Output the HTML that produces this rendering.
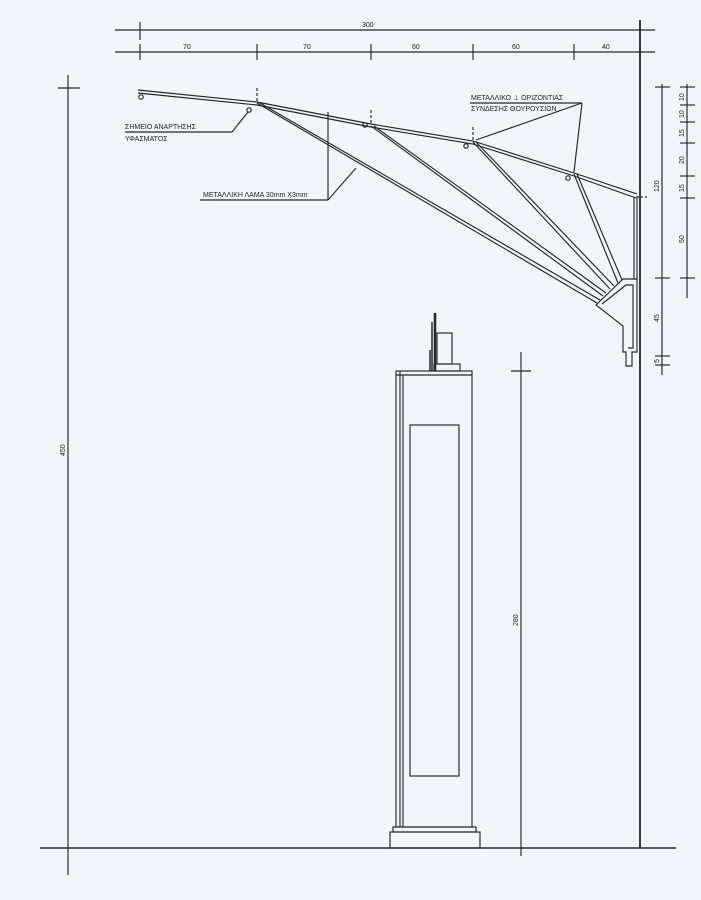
<!DOCTYPE html>
<html><head><meta charset="utf-8"><style>
html,body{margin:0;padding:0;background:#f2f4f9;}
svg{display:block}
text{font-family:"Liberation Sans",sans-serif;fill:#222;font-size:7px}
</style></head><body>
<svg width="701" height="900" viewBox="0 0 701 900" xmlns="http://www.w3.org/2000/svg">
<rect width="701" height="900" fill="#f2f4f9"/>
<g stroke="#262626" fill="none" stroke-width="1.15">
<line x1="115" y1="30" x2="655" y2="30"/>
<line x1="140" y1="22" x2="140" y2="40"/>
<line x1="115" y1="52" x2="655" y2="52"/>
<line x1="140" y1="44" x2="140" y2="60"/>
<line x1="257" y1="44" x2="257" y2="60"/>
<line x1="371" y1="44" x2="371" y2="60"/>
<line x1="473" y1="44" x2="473" y2="60"/>
<line x1="574" y1="44" x2="574" y2="60"/>
<line x1="640" y1="20" x2="640" y2="848" stroke-width="1.8"/>
<line x1="40" y1="848" x2="676" y2="848" stroke-width="1.4"/>
<line x1="68" y1="75" x2="68" y2="875"/>
<line x1="58" y1="88" x2="80" y2="88"/>
<line x1="521" y1="352" x2="521" y2="856"/>
<line x1="511" y1="371" x2="531" y2="371"/>
<line x1="662" y1="84" x2="662" y2="375"/>
<line x1="655" y1="87" x2="670" y2="87"/>
<line x1="655" y1="278" x2="670" y2="278"/>
<line x1="655" y1="356" x2="670" y2="356"/>
<line x1="655" y1="365" x2="670" y2="365"/>
<line x1="687" y1="84" x2="687" y2="298"/>
<line x1="680" y1="87" x2="695" y2="87"/>
<line x1="680" y1="105" x2="695" y2="105"/>
<line x1="680" y1="122" x2="695" y2="122"/>
<line x1="680" y1="143" x2="695" y2="143"/>
<line x1="680" y1="176" x2="695" y2="176"/>
<line x1="680" y1="198" x2="695" y2="198"/>
<line x1="680" y1="278" x2="695" y2="278"/>
<polyline points="138,90 257,102 371,124 473,141 574,173 637,194"/>
<polyline points="138,93 257,105 371,127 473,144 574,176 636,198"/>
<line x1="257" y1="103" x2="597" y2="303"/><line x1="260" y1="103" x2="600" y2="300"/>
<line x1="371" y1="126" x2="603" y2="296"/><line x1="374" y1="126" x2="606" y2="293"/>
<line x1="473" y1="142" x2="610" y2="289"/><line x1="476" y1="142" x2="614" y2="286"/>
<line x1="574" y1="174" x2="618" y2="283"/><line x1="577" y1="174" x2="622" y2="280"/>
<line x1="634" y1="197" x2="634" y2="279"/><line x1="637" y1="196" x2="637" y2="279"/>
<polygon points="596,305 623,279 637,279 637,352 632,352 632,366 626,366 626,352 623,352 623,326"/>
<polyline points="602,304 626,285 633,285 633,348 628,348"/>
<line x1="257" y1="88" x2="257" y2="102" stroke-dasharray="3,2"/>
<line x1="371" y1="110" x2="371" y2="124" stroke-dasharray="3,2"/>
<line x1="473" y1="127" x2="473" y2="141" stroke-dasharray="3,2"/>
<line x1="637" y1="197" x2="648" y2="197" stroke-dasharray="2,2"/>
<circle cx="141" cy="97" r="2.2"/><circle cx="249" cy="110" r="2.2"/>
<circle cx="365" cy="125" r="2.2"/><circle cx="466" cy="146" r="2.2"/>
<circle cx="568" cy="178" r="2.2"/>
<line x1="125" y1="132" x2="232" y2="132"/><line x1="232" y1="132" x2="248" y2="112"/>
<line x1="200" y1="200" x2="328" y2="200"/><line x1="328" y1="200" x2="328" y2="112"/>
<line x1="328" y1="200" x2="356" y2="168"/>
<line x1="470" y1="103" x2="582" y2="103"/><line x1="582" y1="103" x2="476" y2="140"/>
<line x1="582" y1="103" x2="574" y2="172"/>
<rect x="396" y="371" width="76" height="456"/>
<line x1="396" y1="375" x2="472" y2="375"/>
<line x1="400" y1="371" x2="400" y2="827"/><line x1="403" y1="375" x2="403" y2="827"/>
<rect x="410" y="425" width="49" height="351"/>
<rect x="393" y="827" width="83" height="5"/>
<rect x="390" y="832" width="90" height="16"/>
<rect x="434" y="364" width="26" height="7"/>
<rect x="437" y="333" width="15" height="31"/>
<line x1="435" y1="313" x2="435" y2="371" stroke-width="2.5"/>
<line x1="432" y1="322" x2="432" y2="371" stroke-width="1.5"/>
<line x1="430" y1="350" x2="430" y2="371" stroke-width="1.5"/>
</g>
<g>
<text x="362" y="27">300</text>
<text x="183" y="49">70</text><text x="303" y="49">70</text>
<text x="412" y="49">60</text><text x="512" y="49">60</text><text x="602" y="49">40</text>
<text x="125" y="129" font-size="6.5">ΣΗΜΕΙΟ ΑΝΑΡΤΗΣΗΣ</text>
<text x="125" y="141" font-size="6.5">ΥΦΑΣΜΑΤΟΣ</text>
<text x="203" y="197" font-size="6.5">ΜΕΤΑΛΛΙΚΗ ΛΑΜΑ 30mm X3mm</text>
<text x="471" y="100" font-size="6.5">ΜΕΤΑΛΛΙΚΟ ⊥ ΟΡΙΖΟΝΤΙΑΣ</text>
<text x="471" y="111" font-size="6.5">ΣΥΝΔΕΣΗΣ ΘΟΥΡΟΥΣΙΩΝ</text>
<text transform="translate(65,456) rotate(-90)">450</text>
<text transform="translate(518,626) rotate(-90)">280</text>
<text transform="translate(659,192) rotate(-90)">120</text>
<text transform="translate(659,322) rotate(-90)">45</text>
<text transform="translate(659,363) rotate(-90)">5</text>
<text transform="translate(684,101) rotate(-90)">10</text>
<text transform="translate(684,118) rotate(-90)">10</text>
<text transform="translate(684,137) rotate(-90)">15</text>
<text transform="translate(684,164) rotate(-90)">20</text>
<text transform="translate(684,192) rotate(-90)">15</text>
<text transform="translate(684,243) rotate(-90)">50</text>
</g>
</svg>
</body></html>
